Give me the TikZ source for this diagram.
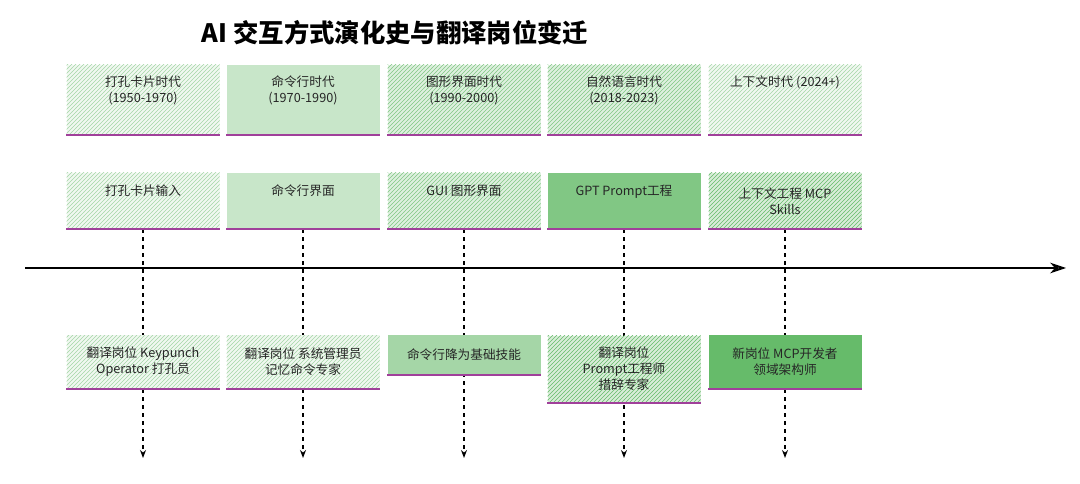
\documentclass[tikz,border=0pt]{standalone}
\usepackage{fontspec}
\setmainfont{Noto Sans CJK SC}
\usetikzlibrary{patterns,arrows.meta}
\definecolor{g0}{HTML}{F1F8F1}
\definecolor{g1}{HTML}{C8E6C9}
\definecolor{g2}{HTML}{A5D6A7}
\definecolor{g3}{HTML}{81C784}
\definecolor{g4}{HTML}{66BB6A}
\definecolor{pu}{HTML}{A0409A}
\begin{document}
\begin{tikzpicture}[x=0.75pt,y=-0.75pt,
  box/.style={draw=none,minimum width=114.75pt,inner sep=2pt,align=center,font=\fontsize{9.5}{12}\selectfont,text=black!85},
  hl/.style={box,preaction={fill=g0},pattern={north east lines},pattern color=g2},
  hm/.style={box,preaction={fill=g1!60},pattern={north east lines},pattern color=g3},
  hd/.style={box,preaction={fill=g1!70},pattern={north east lines},pattern color=g4},
  sl/.style={box,fill=g1},
  sm/.style={box,fill=g2},
  sd/.style={box,fill=g4},
  sg/.style={box,fill=g3},
  bar/.style={pu,line width=1.6pt},
  dashconn/.style={dashed,line width=0.9pt,-{Stealth[open,length=6pt]}}]
\useasboundingbox (0,0) rectangle (1080,484);
\node[font=\bfseries\fontsize{19}{22}\selectfont] (title) at (395,33) {AI 交互方式演化史与翻译岗位变迁};
% timeline
\coordinate (tl0) at (25,268); \coordinate (tl1) at (1066,268);
\draw[line width=1.5pt,-{Stealth[open,length=12pt,width=8pt]}] (tl0) -- (tl1);
% columns
\foreach \i/\x in {1/143,2/303,3/464,4/624,5/785}{
  \coordinate (e\i) at (\x,458);
}
% row1
\node[hl,minimum height=52.5pt] (a1) at (143,100) {打孔卡片时代\\(1950-1970)\\ \strut};
\node[sl,minimum height=52.5pt] (a2) at (303,100) {命令行时代\\(1970-1990)\\ \strut};
\node[hm,minimum height=52.5pt] (a3) at (464,100) {图形界面时代\\(1990-2000)\\ \strut};
\node[hm,minimum height=52.5pt] (a4) at (624,100) {自然语言时代\\(2018-2023)\\ \strut};
\node[hl,minimum height=52.5pt] (a5) at (785,100) {上下文时代 (2024+)\\ \strut\\ \strut};
% row2
\node[hl,minimum height=42pt] (b1) at (143,201) {打孔卡片输入\\ \strut};
\node[sl,minimum height=42pt] (b2) at (303,201) {命令行界面\\ \strut};
\node[hm,minimum height=42pt] (b3) at (464,201) {GUI 图形界面\\ \strut};
\node[sg,minimum height=42pt] (b4) at (624,201) {GPT Prompt工程\\ \strut};
\node[hd,minimum height=42pt] (b5) at (785,201) {上下文工程 MCP\\Skills};
% dashed connectors
\foreach \i in {1,...,5}{\draw[dashconn] (b\i.south) -- (e\i);}
% row3
\node[hl,minimum height=40pt] (c1) at (143,362) {翻译岗位 Keypunch\\Operator 打孔员};
\node[hl,minimum height=40pt] (c2) at (303,362) {翻译岗位 系统管理员\\记忆命令专家};
\node[sm,minimum height=30pt] (c3) at (464,355) {命令行降为基础技能};
\node[hd,minimum height=50pt] (c4) at (624,369) {翻译岗位\\Prompt工程师\\措辞专家};
\node[sd,minimum height=40pt] (c5) at (785,362) {新岗位 MCP开发者\\领域架构师};
% purple underlines
\foreach \n in {a1,a2,a3,a4,a5,b1,b2,b3,b4,b5,c1,c2,c3,c4,c5}{
  \draw[bar] (\n.south west) -- (\n.south east);
}
\end{tikzpicture}
\end{document}
